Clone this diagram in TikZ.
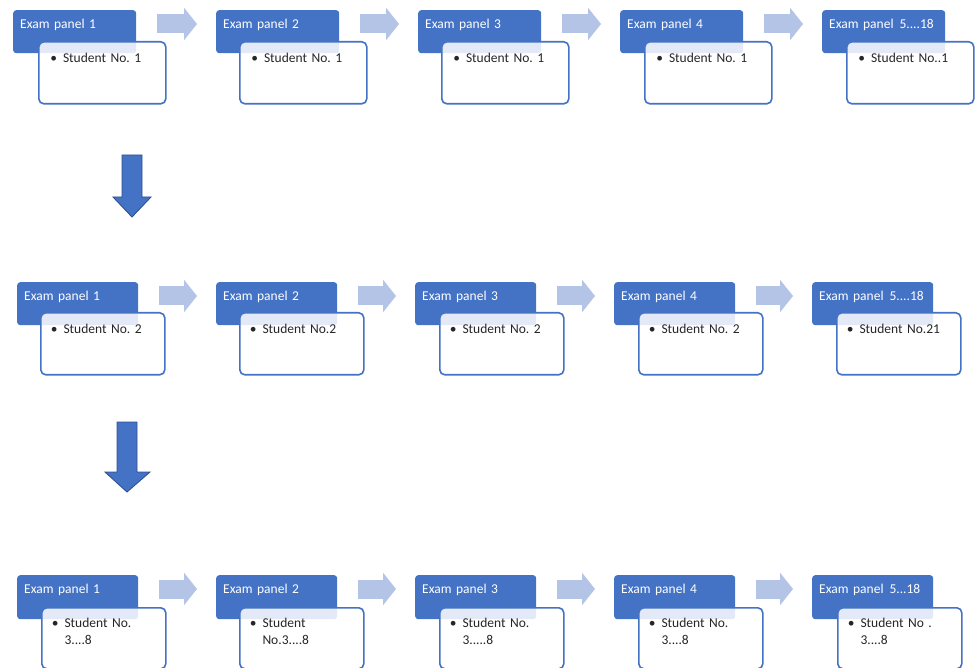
\documentclass[tikz,border=0pt]{standalone}
\usepackage{fontspec}
\setmainfont{Carlito}
\usepackage{xcolor}
\usetikzlibrary{arrows.meta}

\definecolor{panelblue}{HTML}{4472C4}
\definecolor{flowblue}{HTML}{B4C4E6}
\definecolor{edgeblue}{HTML}{2F528F}

\frenchspacing

\begin{document}
\begin{tikzpicture}[
    x=1pt, y=-1pt,
    font=\fontsize{13.5}{17}\selectfont,
    panel/.style={rectangle, rounded corners=3pt, fill=panelblue, text=white, anchor=north west,
        text width=109pt, align=left, inner xsep=7pt, inner ysep=0pt, text height=18pt, text depth=25pt},
    student/.style={rectangle, rounded corners=5pt, draw=panelblue, line width=1.6pt, fill=white, fill opacity=0.85,
        text opacity=1, text=black!85, anchor=north west, text width=104pt, align=left, inner xsep=10pt,
        inner ysep=0pt, text height=21pt, text depth=41pt},
    nextarrow/.style={flowblue, line width=19pt, -{Triangle[length=13pt,width=32pt]}, shorten <=21pt, shorten >=19pt},
    downarrow/.style={fill=panelblue, draw=edgeblue, line width=0.9pt, line join=miter},
]
\useasboundingbox (0,0) rectangle (975,668);

% first round
\node[panel] (pa1) at (13,10) {Exam panel 1};
\node[panel] (pa2) at (216,10) {Exam panel 2};
\node[panel] (pa3) at (418,10) {Exam panel 3};
\node[panel] (pa4) at (620,10) {Exam panel 4};
\node[panel] (pa5) at (822,10) {\mbox{Exam panel\hspace{6pt}5....18}};

\node[student, minimum width=127pt] (sa1) at (38,41) {\textbullet\hspace{6pt}Student No. 1};
\node[student, minimum width=127pt] (sa2) at (239,41) {\textbullet\hspace{6pt}Student No. 1};
\node[student, minimum width=127pt] (sa3) at (441,41) {\textbullet\hspace{6pt}Student No. 1};
\node[student, minimum width=127pt] (sa4) at (644,41) {\textbullet\hspace{6pt}Student No. 1};
\node[student, minimum width=127pt] (sa5) at (846,41) {\textbullet\hspace{6pt}Student No..1};

\draw[nextarrow] ([yshift=-14pt]pa1.north east) -- ([yshift=-14pt]pa2.north west);
\draw[nextarrow] ([yshift=-14pt]pa2.north east) -- ([yshift=-14pt]pa3.north west);
\draw[nextarrow] ([yshift=-14pt]pa3.north east) -- ([yshift=-14pt]pa4.north west);
\draw[nextarrow] ([yshift=-14pt]pa4.north east) -- ([yshift=-14pt]pa5.north west);

% down to the next round
\draw[downarrow] (122,155) -- (142,155) -- (142,197) -- (151,197) -- (132,217) -- (113,197) -- (122,197) -- cycle;

% second round
\node[panel, text width=107pt] (pb1) at (17,282) {Exam panel 1};
\node[panel, text width=107pt] (pb2) at (216,282) {Exam panel 2};
\node[panel, text width=107pt] (pb3) at (415,282) {Exam panel 3};
\node[panel, text width=107pt] (pb4) at (614,282) {Exam panel 4};
\node[panel, text width=107pt] (pb5) at (812,282) {\mbox{Exam panel\hspace{6pt}5....18}};

\node[student] (sb1) at (40,312) {\textbullet\hspace{6pt}Student No. 2};
\node[student] (sb2) at (239,312) {\textbullet\hspace{6pt}Student No.2};
\node[student] (sb3) at (439,312) {\textbullet\hspace{6pt}Student No. 2};
\node[student] (sb4) at (638,312) {\textbullet\hspace{6pt}Student No. 2};
\node[student] (sb5) at (836,312) {\textbullet\hspace{6pt}Student No.21};

\draw[nextarrow] ([yshift=-14pt]pb1.north east) -- ([yshift=-14pt]pb2.north west);
\draw[nextarrow] ([yshift=-14pt]pb2.north east) -- ([yshift=-14pt]pb3.north west);
\draw[nextarrow] ([yshift=-14pt]pb3.north east) -- ([yshift=-14pt]pb4.north west);
\draw[nextarrow] ([yshift=-14pt]pb4.north east) -- ([yshift=-14pt]pb5.north west);

\draw[downarrow] (117,422) -- (137,422) -- (137,472) -- (150,472) -- (127,492) -- (105,472) -- (117,472) -- cycle;

% last round
\node[panel, text width=107pt, text depth=26pt] (pc1) at (17,575) {Exam panel 1};
\node[panel, text width=107pt, text depth=26pt] (pc2) at (216,575) {Exam panel 2};
\node[panel, text width=107pt, text depth=26pt] (pc3) at (415,575) {Exam panel 3};
\node[panel, text width=107pt, text depth=26pt] (pc4) at (614,575) {Exam panel 4};
\node[panel, text width=107pt, text depth=26pt] (pc5) at (812,575) {\mbox{Exam panel\hspace{6pt}5...18}};

\node[student, text height=20pt] (sc1) at (41,607) {\textbullet\hspace{6pt}Student No.\\\hphantom{\textbullet\hspace{6pt}}3....8};
\node[student, text height=20pt] (sc2) at (239,607) {\textbullet\hspace{6pt}Student\\\hphantom{\textbullet\hspace{6pt}}No.3....8};
\node[student, text height=20pt] (sc3) at (439,607) {\textbullet\hspace{6pt}Student No.\\\hphantom{\textbullet\hspace{6pt}}3.....8};
\node[student, text height=20pt] (sc4) at (638,607) {\textbullet\hspace{6pt}Student No.\\\hphantom{\textbullet\hspace{6pt}}3....8};
\node[student, text height=20pt] (sc5) at (837,607) {\textbullet\hspace{6pt}Student No .\\\hphantom{\textbullet\hspace{6pt}}3....8};

\draw[nextarrow] ([yshift=-14pt]pc1.north east) -- ([yshift=-14pt]pc2.north west);
\draw[nextarrow] ([yshift=-14pt]pc2.north east) -- ([yshift=-14pt]pc3.north west);
\draw[nextarrow] ([yshift=-14pt]pc3.north east) -- ([yshift=-14pt]pc4.north west);
\draw[nextarrow] ([yshift=-14pt]pc4.north east) -- ([yshift=-14pt]pc5.north west);

\end{tikzpicture}
\end{document}
